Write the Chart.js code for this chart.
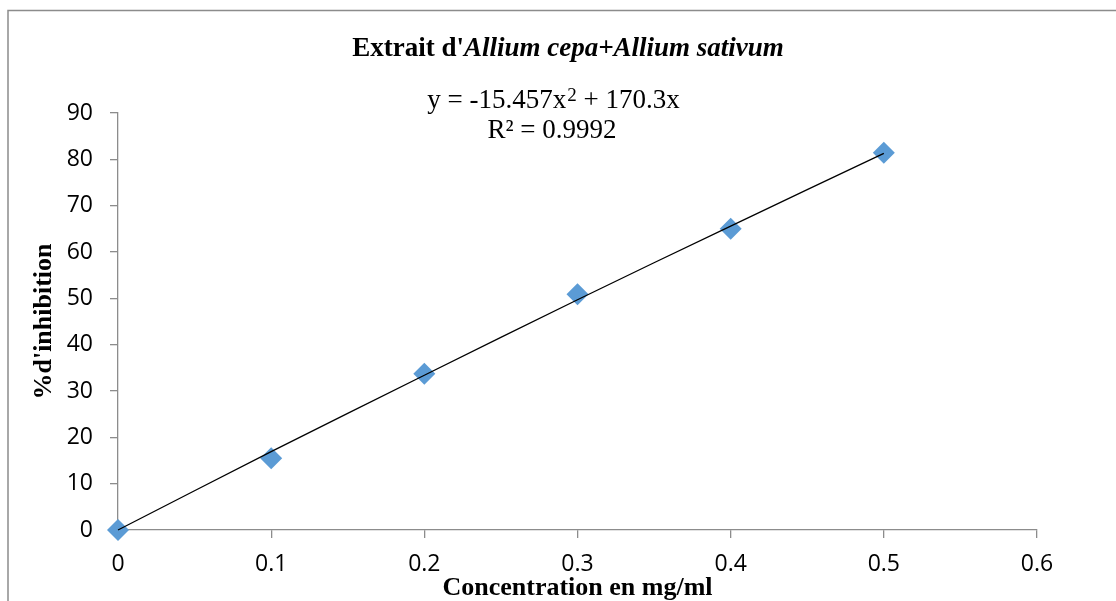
<!DOCTYPE html>
<html>
<head>
<meta charset="utf-8">
<script src="https://cdn.jsdelivr.net/npm/chart.js@4/dist/chart.umd.min.js"></script>
<style>
  html, body { margin: 0; padding: 0; background: #fff; }
  #wrap { width: 1116px; height: 601px; position: relative; }
</style>
</head>
<body>
<div id="wrap"><canvas id="c" width="1116" height="601"></canvas></div>
<script>
// ---- Data ----
const concentrations = [0, 0.1, 0.2, 0.3, 0.4, 0.5];
const inhibition = [0, 15.5, 33.7, 50.9, 65.0, 81.4];
const trendX = [0, 0.1, 0.2, 0.3, 0.4, 0.5];
const trendY = [0, 16.9, 33.4, 49.7, 65.6, 81.3];
const xTickLabels = ['0', '0.1', '0.2', '0.3', '0.4', '0.5', '0.6'];
const yTickLabels = ['0', '10', '20', '30', '40', '50', '60', '70', '80', '90'];
const titleNormal = "Extrait d'";
const titleItalic = "Allium cepa+Allium sativum";
const equationMain = "y = -15.457x";
const equationSup = "2";
const equationRest = " + 170.3x";
const r2Text = "R\u00B2 = 0.9992";
const xAxisTitle = "Concentration en mg/ml";
const yAxisTitle = "%d'inhibition";

const SERIF = '"Liberation Serif", "Times New Roman", serif';
const SANS = '"Open Sans", "Noto Sans", sans-serif';

const decorPlugin = {
  id: 'decor',
  beforeDraw(chart) {
    const ctx = chart.ctx;
    ctx.save();
    ctx.strokeStyle = '#8c8c8c';
    ctx.lineWidth = 1.5;
    ctx.strokeRect(8, 10.5, 1140, 620);
    ctx.restore();
  },
  afterDraw(chart) {
    const ctx = chart.ctx;
    ctx.save();
    ctx.fillStyle = '#000';
    ctx.textBaseline = 'alphabetic';
    // title
    ctx.font = 'bold 27px ' + SERIF;
    const w1 = ctx.measureText(titleNormal).width;
    ctx.font = 'italic bold 27px ' + SERIF;
    const w2 = ctx.measureText(titleItalic).width;
    let x = 568 - (w1 + w2) / 2;
    ctx.font = 'bold 27px ' + SERIF;
    ctx.fillText(titleNormal, x, 56);
    ctx.font = 'italic bold 27px ' + SERIF;
    ctx.fillText(titleItalic, x + w1, 56);
    // equation
    ctx.font = '27px ' + SERIF;
    const e1 = ctx.measureText(equationMain).width;
    const e3 = ctx.measureText(equationRest).width;
    ctx.font = '19px ' + SERIF;
    const e2 = ctx.measureText(equationSup).width;
    x = 553 - (e1 + e2 + e3) / 2;
    ctx.font = '27px ' + SERIF;
    ctx.fillText(equationMain, x, 108);
    ctx.font = '19px ' + SERIF;
    ctx.fillText(equationSup, x + e1 + 1, 101);
    ctx.font = '27px ' + SERIF;
    ctx.fillText(equationRest, x + e1 + e2 + 1, 108);
    ctx.textAlign = 'center';
    ctx.fillText(r2Text, 552, 138);
    ctx.restore();
  }
};

new Chart(document.getElementById('c'), {
  type: 'scatter',
  data: {
    datasets: [
      {
        label: 'Tendance',
        type: 'line',
        data: trendX.map((v, i) => ({ x: v, y: trendY[i] })),
        borderColor: '#000',
        borderWidth: 1.3,
        pointRadius: 0,
        fill: false,
        tension: 0.4,
        order: 0,
        clip: false
      },
      {
        label: 'Inhibition',
        data: concentrations.map((v, i) => ({ x: v, y: inhibition[i] })),
        pointStyle: 'rectRot',
        pointRadius: 11,
        pointHoverRadius: 11,
        backgroundColor: '#5B9BD5',
        borderColor: '#5B9BD5',
        borderWidth: 0,
        order: 1,
        clip: false
      }
    ]
  },
  options: {
    responsive: false,
    animation: false,
    devicePixelRatio: 1,
    layout: { autoPadding: false, padding: { left: 0, top: 113, right: 79, bottom: 0 } },
    plugins: { legend: { display: false }, tooltip: { enabled: false }, title: { display: false } },
    scales: {
      x: {
        type: 'linear',
        min: 0, max: 0.6,
        afterFit(axis) { axis.height = 71; },
        afterBuildTicks(axis) {
          axis.ticks = xTickLabels.map(t => ({ value: parseFloat(t) }));
        },
        ticks: {
          callback: (v, i) => xTickLabels[i],
          font: { family: SANS, size: 23 },
          color: '#000',
          padding: 13,
          maxRotation: 0,
          autoSkip: false
        },
        grid: { display: true, drawOnChartArea: false, drawTicks: true, tickLength: 8, color: '#8c8c8c', lineWidth: 1.3 },
        border: { display: true, color: '#8c8c8c', width: 1.3 },
        title: {
          display: true,
          text: xAxisTitle,
          color: '#000',
          font: { family: SERIF, size: 26, weight: 'bold', lineHeight: 1 },
          padding: { top: 0, bottom: 0 }
        }
      },
      y: {
        type: 'linear',
        min: 0, max: 90,
        afterFit(axis) { axis.width = 118; },
        afterBuildTicks(axis) {
          axis.ticks = yTickLabels.map(t => ({ value: parseFloat(t) }));
        },
        ticks: {
          callback: (v, i) => yTickLabels[i],
          font: { family: SANS, size: 23 },
          color: '#000',
          padding: 17,
          autoSkip: false
        },
        grid: { display: true, drawOnChartArea: false, drawTicks: true, tickLength: 8, color: '#8c8c8c', lineWidth: 1.3 },
        border: { display: true, color: '#8c8c8c', width: 1.3 },
        title: {
          display: true,
          text: yAxisTitle,
          color: '#000',
          font: { family: SERIF, size: 26, weight: 'bold', lineHeight: 1 },
          padding: { top: 31, bottom: 0 }
        }
      }
    }
  },
  plugins: [decorPlugin]
});
</script>
</body>
</html>
